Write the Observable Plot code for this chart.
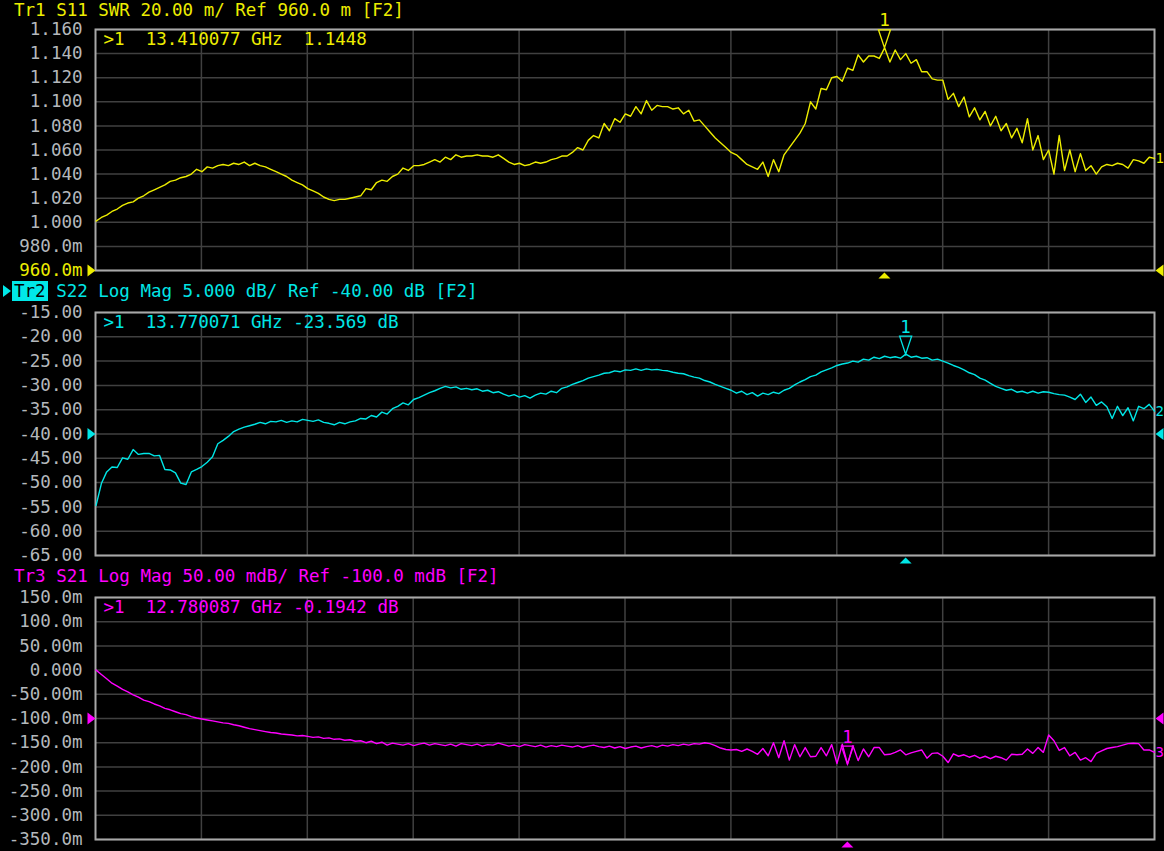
<!DOCTYPE html>
<html><head><meta charset="utf-8">
<script src="https://cdn.jsdelivr.net/npm/d3@7"></script>
<script src="https://cdn.jsdelivr.net/npm/@observablehq/plot@0.6"></script>
<style>
html,body{margin:0;padding:0;background:#000;}
#root{position:relative;width:1164px;height:851px;overflow:hidden;background:#000;font-family:"DejaVu Sans Mono",monospace;}
.panel{position:absolute;left:0;width:1164px;}
.title{position:absolute;left:14px;font-size:17.5px;white-space:pre;line-height:20px;}
.hl{background:#00e8e8;color:#000;padding:0 2px;margin:0 -2px;}
.tri{position:absolute;left:3px;width:0;height:0;border-top:6px solid transparent;border-bottom:6px solid transparent;border-left:8px solid #00e8e8;}
svg text{white-space:pre;}
</style></head><body><div id="root"></div>
<script>
// Sweep (instrument setting): 10 MHz .. 18 GHz, 201 points
const sweepStartGHz = 0.01, sweepStopGHz = 18, sweepPoints = 201;
const xGridGHz = [1.8, 3.6, 5.4, 7.2, 9, 10.8, 12.6, 14.4, 16.2];

// Tr1 S11 SWR
const s11Swr = [
 1.001,1.004,1.006,1.009,1.011,1.014,1.016,1.017,1.020,1.022,1.025,1.027,1.029,1.031,1.034,1.035,1.037,1.038,1.040,1.044,1.042,
 1.046,1.045,1.047,1.048,1.047,1.049,1.048,1.050,1.047,1.049,1.047,1.046,1.044,1.042,1.040,1.038,1.035,1.033,1.031,1.028,
 1.026,1.024,1.021,1.019,1.018,1.019,1.019,1.020,1.021,1.022,1.028,1.027,1.033,1.035,1.034,1.038,1.040,1.045,1.043,1.047,
 1.047,1.048,1.050,1.052,1.050,1.054,1.052,1.056,1.054,1.055,1.055,1.056,1.055,1.055,1.054,1.056,1.053,1.050,1.048,1.049,
 1.047,1.048,1.050,1.049,1.050,1.052,1.053,1.055,1.055,1.058,1.062,1.060,1.068,1.072,1.070,1.082,1.076,1.086,1.083,1.090,
 1.088,1.096,1.090,1.101,1.093,1.097,1.096,1.096,1.094,1.095,1.090,1.093,1.084,1.085,1.080,1.075,1.070,1.066,1.062,1.058,
 1.056,1.052,1.048,1.046,1.044,1.050,1.038,1.052,1.042,1.056,1.062,1.068,1.074,1.082,1.100,1.094,1.111,1.110,1.120,1.121,
 1.117,1.128,1.126,1.139,1.133,1.138,1.138,1.136,1.1448,1.133,1.143,1.135,1.140,1.132,1.135,1.125,1.125,1.119,1.118,1.118,
 1.102,1.107,1.096,1.104,1.0875,1.095,1.085,1.092,1.080,1.088,1.076,1.082,1.070,1.078,1.066,1.086,1.060,1.072,1.052,1.060,
 1.040,1.072,1.043,1.060,1.042,1.057,1.043,1.047,1.040,1.046,1.048,1.047,1.049,1.048,1.045,1.052,1.051,1.049,1.054,1.053
];
// Tr2 S22 Log Mag (dB)
const s22Db = [
 -54.7,-50.2,-47.8,-46.8,-46.9,-44.9,-45.2,-43.2,-44.2,-44.0,-44.0,-44.5,-44.4,-47.3,-47.4,-48.0,-50.1,-50.4,-47.8,-47.3,-46.7,
 -45.8,-44.7,-42.0,-41.3,-40.5,-39.5,-39.0,-38.6,-38.3,-38.0,-37.6,-37.9,-37.4,-37.5,-37.2,-37.6,-37.3,-37.5,-37.0,-37.2,
 -37.4,-37.1,-37.6,-37.8,-38.1,-37.6,-37.9,-37.5,-37.3,-36.8,-36.9,-36.2,-36.5,-35.5,-35.9,-34.8,-34.3,-33.6,-34.0,-32.9,
 -32.5,-32.0,-31.5,-31.1,-30.6,-30.2,-30.5,-30.3,-30.8,-30.6,-30.9,-30.7,-31.2,-31.0,-31.5,-31.3,-31.8,-32.2,-31.9,-32.4,
 -32.1,-32.6,-32.0,-31.6,-31.8,-31.2,-31.5,-30.6,-30.3,-29.8,-29.4,-29.0,-28.5,-28.2,-27.9,-27.5,-27.4,-27.0,-27.2,-26.8,
 -26.9,-26.6,-26.9,-26.6,-26.8,-26.7,-26.9,-27.0,-27.3,-27.5,-27.6,-28.0,-28.3,-28.5,-29.0,-29.3,-29.8,-30.2,-30.6,-31.0,
 -31.6,-31.2,-31.9,-31.5,-32.2,-31.6,-31.9,-31.4,-31.7,-31.0,-30.6,-29.9,-29.3,-28.8,-28.2,-27.9,-27.2,-26.8,-26.4,-25.9,
 -25.6,-25.4,-25.0,-25.2,-24.6,-24.8,-24.2,-24.5,-24.0,-24.3,-24.1,-24.4,-23.569,-24.2,-24.0,-24.4,-24.3,-24.8,-24.6,-25.0,
 -25.4,-25.9,-26.3,-26.8,-27.4,-27.8,-28.5,-28.9,-29.6,-30.2,-30.6,-31.0,-30.8,-31.4,-31.2,-31.6,-31.2,-31.6,-31.3,-31.4,
 -31.7,-31.9,-32.0,-32.4,-32.9,-31.8,-33.5,-32.4,-34.1,-33.4,-34.4,-36.8,-34.3,-36.2,-34.6,-37.3,-34.3,-34.8,-33.9,-35.3
];
// Tr3 S21 Log Mag (mdB)
const s21mdB = [
 0,-9,-18,-27,-33,-40,-45,-51,-56,-62,-65,-70,-74,-79,-82,-86,-90,-92,-96,-99,-101,
 -103,-105,-107,-109,-110,-113,-115,-118,-121,-123,-125,-127,-129,-130,-132,-133,-134,-136,-135,-137,
 -139,-138,-141,-140,-143,-142,-145,-144,-147,-146,-150,-147,-152,-149,-155,-151,-153,-155,-152,-156,
 -153,-151,-155,-152,-154,-156,-153,-157,-152,-154,-156,-153,-157,-154,-155,-151,-154,-157,-155,-158,
 -154,-156,-158,-155,-159,-156,-158,-155,-157,-159,-156,-160,-157,-155,-158,-160,-157,-161,-158,-162,
 -159,-157,-161,-158,-156,-159,-155,-157,-154,-156,-153,-155,-152,-153,-150,-152,-156,-161,-164,-165,
 -164,-168,-163,-168,-174,-162,-177,-150,-181,-146,-186,-154,-179,-160,-179,-178,-160,-177,-154,-193,
 -153,-194.2,-156,-187,-163,-179,-160,-160,-175,-174,-170,-165,-175,-171,-168,-165,-182,-172,-171,-178,
 -191,-173,-178,-175,-180,-176,-182,-178,-183,-178,-181,-186,-174,-175,-174,-163,-172,-160,-170,-134,
 -146,-166,-160,-177,-170,-186,-181,-189,-172,-167,-162,-160,-158,-155,-152,-151,-152,-165,-165,-170
];

const s11Ticks = [1.160,1.140,1.120,1.100,1.080,1.060,1.040,1.020,1.000,0.980,0.960];
const s22Ticks = [-15,-20,-25,-30,-35,-40,-45,-50,-55,-60,-65];
const s21Ticks = [150,100,50,0,-50,-100,-150,-200,-250,-300,-350];

const markers = {
  s11: {f: 13.410077, v: 1.1448},
  s22: {f: 13.770071, v: -23.569},
  s21: {f: 12.780087, v: -194.2}
};

const freqGHz = d3.range(sweepPoints).map(i => sweepStartGHz + i * (sweepStopGHz - sweepStartGHz) / (sweepPoints - 1));

const YEL = "#eded00", CYA = "#00e6e6", MAG = "#ff00ff";
const GRID = "#404040", FRAME = "#a8a8a8", LABEL = "#b4b8bc";

const markerTri = {draw(c){ c.moveTo(-6,-18); c.lineTo(6,-18); c.lineTo(0,0); c.closePath(); }};
const stimTri = {draw(c){ c.moveTo(0,2); c.lineTo(6,8); c.lineTo(-6,8); c.closePath(); }};
const leftRefTri = {draw(c){ c.moveTo(-8,-6); c.lineTo(0,0); c.lineTo(-8,6); c.closePath(); }};
const rightRefTri = {draw(c){ c.moveTo(9,-6); c.lineTo(1,0); c.lineTo(9,6); c.closePath(); }};

const root = document.getElementById("root");

function makePanel(o) {
  const data = o.values.map((v, i) => ({f: freqGHz[i], v}));
  const last = data[data.length - 1];
  const plot = Plot.plot({
    width: 1164, height: o.height, marginTop: o.marginTop, marginBottom: o.marginBottom,
    marginLeft: 95, marginRight: 10,
    style: {background: "#000", color: LABEL, fontFamily: "DejaVu Sans Mono", fontSize: "17.5px", overflow: "visible"},
    x: {domain: [0, 18], axis: null},
    y: {domain: o.domain, axis: null},
    marks: [
      Plot.gridX(xGridGHz, {x: d => d, stroke: GRID, strokeOpacity: 1, strokeWidth: 1.5}),
      Plot.gridY(o.ticks, {y: d => d, stroke: GRID, strokeOpacity: 1, strokeWidth: 1.5}),
      Plot.frame({stroke: FRAME, strokeWidth: 2}),
      Plot.axisY({ticks: o.ticks.filter(t => t !== o.ref), tickSize: 0, tickPadding: 13, tickFormat: o.fmt, fill: LABEL, label: null}),
      Plot.axisY({ticks: [o.ref], tickSize: 0, tickPadding: 13, tickFormat: o.fmt, fill: o.refLabelColor, label: null}),
      Plot.line(data, {x: "f", y: "v", stroke: o.color, strokeWidth: 1.4}),
      Plot.dot([o.marker], {x: "f", y: "v", symbol: markerTri, stroke: o.color, fill: "none", strokeWidth: 1.3}),
      Plot.text([o.marker], {x: "f", y: "v", text: () => "1", fill: o.color, dy: -27}),
      Plot.dot([o.marker], {x: "f", frameAnchor: "bottom", symbol: stimTri, fill: o.color, stroke: "none"}),
      Plot.dot([o.ref], {y: d => d, frameAnchor: "left", symbol: leftRefTri, fill: o.color, stroke: "none"}),
      Plot.dot([o.ref], {y: d => d, frameAnchor: "right", symbol: rightRefTri, fill: o.color, stroke: "none"}),
      Plot.text([last], {x: "f", y: "v", text: () => o.traceNo, fill: o.color, textAnchor: "start", dx: 1, fontSize: 14}),
      Plot.text([o.readout], {frameAnchor: "top-left", text: d => d, fill: o.color, dx: 8, dy: 3, lineAnchor: "top"})
    ]
  });
  const wrap = document.createElement("div");
  wrap.className = "panel";
  wrap.style.top = o.top + "px";
  wrap.style.height = o.height + "px";
  wrap.appendChild(plot);
  const t = document.createElement("div");
  t.className = "title";
  t.style.top = o.titleTop + "px";
  t.style.color = o.color;
  t.innerHTML = o.titleHTML;
  wrap.appendChild(t);
  if (o.active) {
    const tri = document.createElement("div");
    tri.className = "tri";
    tri.style.top = (o.titleTop + 4) + "px";
    wrap.appendChild(tri);
  }
  root.appendChild(wrap);
}

makePanel({
  top: 0, height: 284, marginTop: 29, marginBottom: 14, titleTop: 0,
  values: s11Swr, domain: [0.96, 1.16], ticks: s11Ticks, ref: 0.960,
  fmt: v => v >= 1 ? v.toFixed(3) : (v * 1000).toPrecision(4) + "m",
  color: YEL, refLabelColor: YEL, marker: markers.s11, traceNo: "1",
  readout: ">1  13.410077 GHz  1.1448",
  titleHTML: "Tr1 S11 SWR 20.00 m/ Ref 960.0 m [F2]"
});
makePanel({
  top: 284, height: 284, marginTop: 28, marginBottom: 13, titleTop: -3,
  values: s22Db, domain: [-65, -15], ticks: s22Ticks, ref: -40,
  fmt: v => v.toFixed(2),
  color: CYA, refLabelColor: LABEL, marker: markers.s22, traceNo: "2",
  readout: ">1  13.770071 GHz -23.569 dB", active: true,
  titleHTML: '<span class="hl">Tr2</span> S22 Log Mag 5.000 dB/ Ref -40.00 dB [F2]'
});
makePanel({
  top: 568, height: 283, marginTop: 29, marginBottom: 12, titleTop: -2,
  values: s21mdB, domain: [-350, 150], ticks: s21Ticks, ref: -100,
  fmt: v => v === 0 ? "0.000" : v.toPrecision(4) + "m",
  color: MAG, refLabelColor: LABEL, marker: markers.s21, traceNo: "3",
  readout: ">1  12.780087 GHz -0.1942 dB",
  titleHTML: "Tr3 S21 Log Mag 50.00 mdB/ Ref -100.0 mdB [F2]"
});
</script></body></html>
